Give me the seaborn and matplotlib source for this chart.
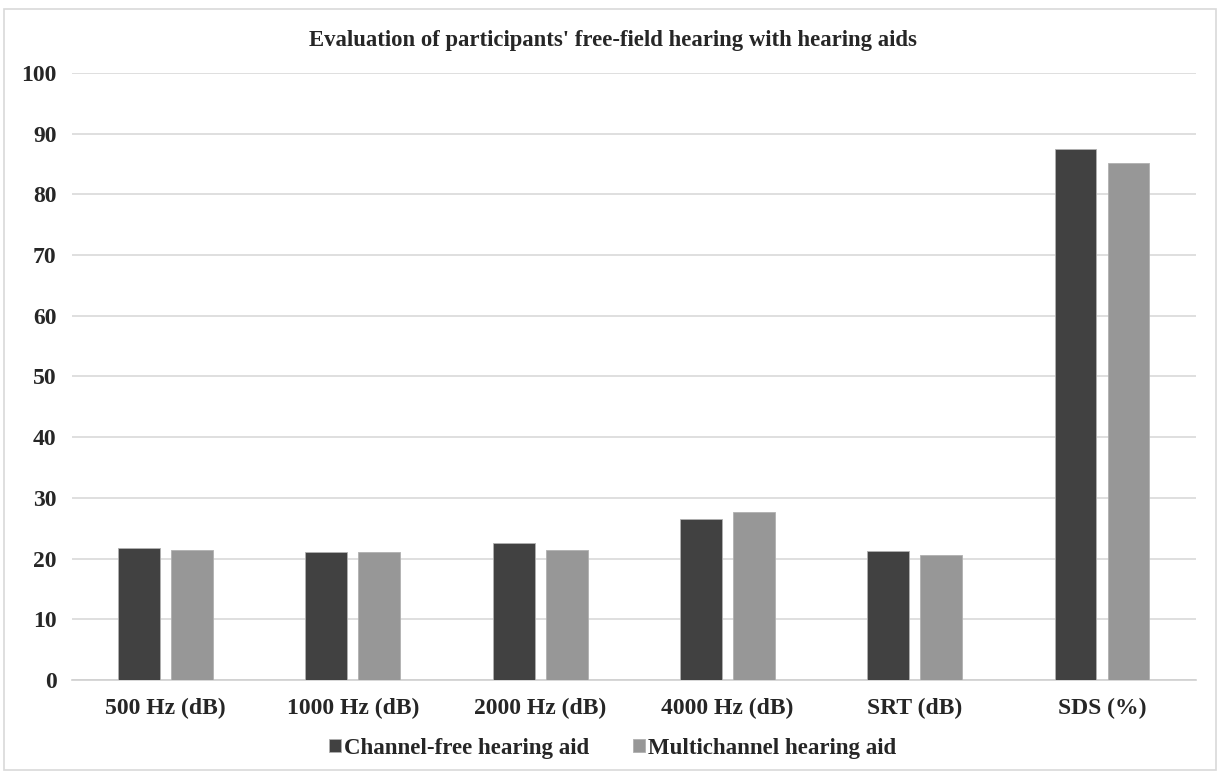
import matplotlib
matplotlib.use("Agg")
import matplotlib.pyplot as plt
import seaborn as sns
import pandas as pd
from matplotlib.patches import Rectangle

categories = ["500 Hz (dB)", "1000 Hz (dB)", "2000 Hz (dB)", "4000 Hz (dB)", "SRT (dB)", "SDS (%)"]
channel_free = [21.8, 21.0, 22.5, 26.5, 21.2, 87.5]
multichannel = [21.4, 21.0, 21.4, 27.6, 20.5, 85.1]
series_names = ["Channel-free hearing aid", "Multichannel hearing aid"]
yticks = list(range(0, 101, 10))

df = pd.DataFrame({
    "category": categories * 2,
    "value": channel_free + multichannel,
    "series": [series_names[0]] * len(categories) + [series_names[1]] * len(categories),
})

sns.set_theme(style="white")
plt.rcParams["font.family"] = ["Liberation Serif", "DejaVu Serif"]
plt.rcParams["font.weight"] = "bold"

fig = plt.figure(figsize=(12.2, 7.77), dpi=100)
ax = fig.add_axes([0.059, 0.125, 0.921, 0.781])

sns.barplot(data=df, x="category", y="value", hue="series", order=categories,
            hue_order=series_names, palette=["#414141", "#979797"],
            width=0.566, gap=0.21, ax=ax, edgecolor="#b0b0b0", linewidth=0.6,
            errorbar=None, zorder=3)

ax.set_ylim(0, 100)
ax.set_yticks(yticks)
ax.set_xlim(-0.5, len(categories) - 0.5)
ax.yaxis.grid(True, color="#d9d9d9", linewidth=1.2, zorder=0)
ax.set_axisbelow(True)
for s in ["top", "right", "left"]:
    ax.spines[s].set_visible(False)
ax.spines["bottom"].set_color("#d0d0d0")
ax.spines["bottom"].set_linewidth(1.2)
ax.tick_params(axis="both", length=0, labelsize=17, colors="#262626")
ax.tick_params(axis="y", pad=11)
ax.tick_params(axis="x", pad=13)
for lab in ax.get_xticklabels() + ax.get_yticklabels():
    lab.set_fontweight("bold")
ax.set_xlabel("")
ax.set_ylabel("")

fig.text(0.502, 0.948, "Evaluation of participants' free-field hearing with hearing aids",
         ha="center", va="center", fontsize=16.4, fontweight="bold", color="#262626")

leg = ax.legend(loc="center", bbox_to_anchor=(0.502, 0.037), bbox_transform=fig.transFigure,
                ncol=2, frameon=False, fontsize=16.5, handlelength=0.52, handleheight=0.52,
                handletextpad=0.15, columnspacing=1.9)
for t in leg.get_texts():
    t.set_fontweight("bold")
    t.set_color("#262626")

fig.patches.append(Rectangle((0.003, 0.009), 0.994, 0.98, transform=fig.transFigure,
                             fill=False, edgecolor="#d9d9d9", linewidth=1.2))

fig.savefig("out.png", dpi=100)
